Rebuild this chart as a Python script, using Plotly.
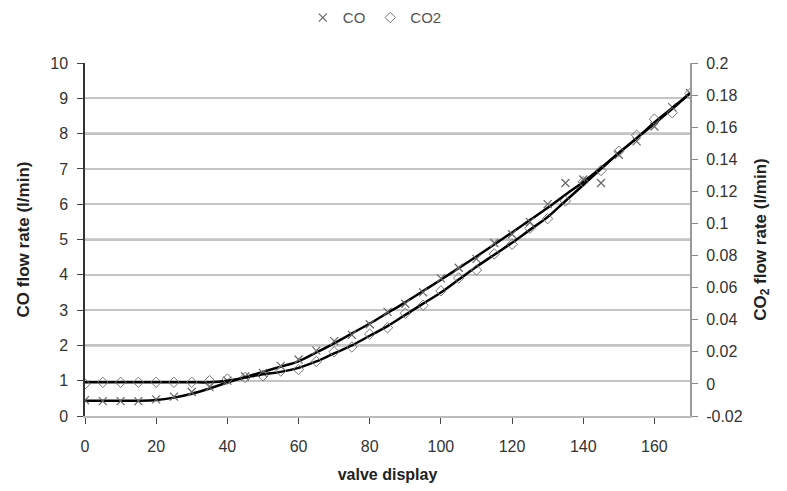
import plotly.graph_objects as go

# valve display positions
valve = [0, 5, 10, 15, 20, 25, 30, 35, 40, 45, 50, 55, 60, 65, 70, 75, 80, 85,
         90, 95, 100, 105, 110, 115, 120, 125, 130, 135, 140, 145, 150, 155, 160, 165, 170]

# measured CO flow rate (l/min), left axis
co_meas = [0.45, 0.42, 0.42, 0.42, 0.47, 0.55, 0.68, 0.82, 1.0, 1.12, 1.22, 1.42, 1.6, 1.85,
           2.12, 2.3, 2.6, 2.95, 3.18, 3.5, 3.9, 4.2, 4.45, 4.9, 5.15, 5.5, 6.0, 6.6, 6.7,
           6.6, 7.4, 7.78, 8.2, 8.75, 9.15]

# fitted CO curve (l/min)
co_fit = [0.43, 0.43, 0.43, 0.43, 0.45, 0.52, 0.63, 0.78, 0.95, 1.1, 1.25, 1.4, 1.55, 1.8,
          2.06, 2.34, 2.62, 2.92, 3.22, 3.54, 3.86, 4.19, 4.52, 4.86, 5.2, 5.55, 5.9, 6.27,
          6.63, 7.03, 7.45, 7.87, 8.28, 8.7, 9.15]

# measured CO2 flow rate (l/min), right axis
co2_meas = [0.000, 0.001, 0.001, 0.001, 0.001, 0.001, 0.001, 0.002, 0.003, 0.004, 0.005,
            0.008, 0.009, 0.014, 0.020, 0.023, 0.031, 0.035, 0.044, 0.049, 0.058, 0.066,
            0.071, 0.081, 0.087, 0.097, 0.103, 0.114, 0.126, 0.133, 0.145, 0.155, 0.165,
            0.169, 0.181]

# fitted CO2 curve (l/min)
co2_fit = [0.001, 0.001, 0.001, 0.001, 0.001, 0.001, 0.001, 0.001, 0.002, 0.004, 0.006,
           0.0075, 0.010, 0.014, 0.019, 0.024, 0.030, 0.036, 0.043, 0.050, 0.057, 0.065,
           0.073, 0.0805, 0.088, 0.096, 0.104, 0.114, 0.124, 0.134, 0.144, 0.153, 0.163,
           0.172, 0.181]

x_ticks = [0, 20, 40, 60, 80, 100, 120, 140, 160]
left_ticks = list(range(0, 11))
right_ticks = [-0.02, 0, 0.02, 0.04, 0.06, 0.08, 0.1, 0.12, 0.14, 0.16, 0.18, 0.2]
right_labels = ["-0.02", "0", "0.02", "0.04", "0.06", "0.08", "0.1", "0.12", "0.14", "0.16", "0.18", "0.2"]
dark_grid = [1, 2, 4, 5, 7, 8]

FONT = "Liberation Sans, Arial, sans-serif"
TXT = "#333333"
TFS = 16

fig = go.Figure()

fig.add_trace(go.Scatter(x=valve, y=co_fit, mode="lines", line=dict(color="black", width=2.5, shape="spline"),
                         showlegend=False, hoverinfo="skip", yaxis="y"))
fig.add_trace(go.Scatter(x=valve, y=co2_fit, mode="lines", line=dict(color="black", width=2.5, shape="spline"),
                         showlegend=False, hoverinfo="skip", yaxis="y2"))
fig.add_trace(go.Scatter(x=valve, y=co_meas, mode="markers", name="CO",
                         marker=dict(symbol="x-thin-open", size=8, color="#666666",
                                     line=dict(width=1.2, color="#666666")), yaxis="y"))
fig.add_trace(go.Scatter(x=valve, y=co2_meas, mode="markers", name="CO2",
                         marker=dict(symbol="diamond-open", size=8, color="#777777",
                                     line=dict(width=1, color="#777777")), yaxis="y2"))

# darker horizontal grid lines (as they appear in the reference)
for v in dark_grid:
    fig.add_hline(y=v, line=dict(color="#444444", width=1.6), layer="below")

# the page body has an 8px margin, so margins are shifted by 8px
fig.update_layout(
    width=787, height=491,
    margin=dict(l=77, r=105, t=55, b=83, autoexpand=False),
    paper_bgcolor="white", plot_bgcolor="white",
    font=dict(family=FONT, size=TFS, color=TXT),
    legend=dict(orientation="h", x=0.479, xanchor="center", y=1.128, yanchor="middle",
                font=dict(size=15, color="#555555"), itemwidth=30, tracegroupgap=0),
    xaxis=dict(range=[0, 170], tickvals=x_ticks, showgrid=False, zeroline=False, automargin=False,
               showline=True, linecolor="#bbbbbb", linewidth=2,
               ticks="outside", ticklen=6, tickcolor="#444444", tickwidth=1,
               tickfont=dict(size=TFS, color=TXT), ticklabelstandoff=9,
               title=dict(text="<b>valve display</b>", font=dict(size=16, color="#222222"), standoff=15)),
    yaxis=dict(range=[0, 10], tickvals=left_ticks, showgrid=True, gridcolor="#c4c4c4", gridwidth=2,
               zeroline=False, showline=True, linecolor="#333333", linewidth=1.5, automargin=False,
               ticks="outside", ticklen=6, tickcolor="#444444", ticklabelstandoff=6,
               tickfont=dict(size=TFS, color=TXT),
               title=dict(text="<b>CO flow rate (l/min)</b>", font=dict(size=17, color="#222222"), standoff=16)),
    yaxis2=dict(range=[-0.02, 0.2], overlaying="y", side="right", tickvals=right_ticks, ticktext=right_labels,
                showgrid=False, zeroline=False, showline=True, linecolor="#999999", linewidth=2,
                ticks="outside", ticklen=6, tickcolor="#888888", automargin=False, ticklabelstandoff=5,
                tickfont=dict(size=TFS, color=TXT),
                title=dict(text="<b>CO<sub>2</sub> flow rate (l/min)</b>", font=dict(size=17, color="#222222"),
                           standoff=12)),
)

fig.write_html("out.html")
